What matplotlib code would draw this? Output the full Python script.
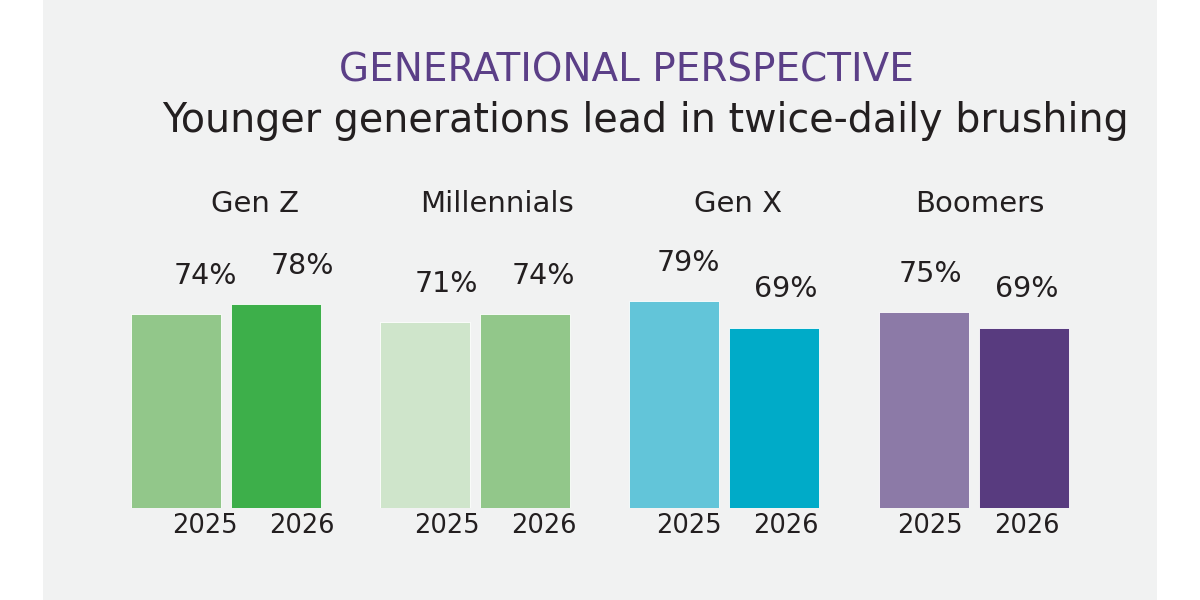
import matplotlib
matplotlib.use("Agg")
import matplotlib.pyplot as plt
from matplotlib.patches import Rectangle

# --- datos ---
groups = ["Gen Z", "Millennials", "Gen X", "Boomers"]
years = ["2025", "2026"]
vals_2025 = [74, 71, 79, 75]
vals_2026 = [78, 74, 69, 69]
colors_2025 = ["#92c78a", "#cfe5cb", "#62c5d9", "#8c7aa7"]
colors_2026 = ["#3daf4a", "#92c78a", "#00abc8", "#583b7f"]

title = "GENERATIONAL PERSPECTIVE"
subtitle = "Younger generations lead in twice-daily brushing"

# --- estilo ---
fam = ["DejaVu Sans"]
txt = "#231f20"
purple = "#5b3f87"
panel = "#f1f2f2"

fig = plt.figure(figsize=(12, 6), dpi=100)
fig.patch.set_facecolor("white")
fig.patches.append(Rectangle((43 / 1200, 0), 1114 / 1200, 1, transform=fig.transFigure,
                             facecolor=panel, edgecolor="none", zorder=-10))

# ejes: 1 unidad x = 100 px, eje y en % (0 en y=508 px, 2.62 px por %)
ax = fig.add_axes([0, (600 - 508.3) / 600, 1, 262 / 600])
ax.set_xlim(-2.26, 9.74)
ax.set_ylim(0, 100)
ax.axis("off")

step = 2.492
w = 0.9


def shift(x):
    # las etiquetas van un poco a la derecha, cada vez menos
    return x + 0.29 - 0.03 * (x + 0.5)


for i, g in enumerate(groups):
    c = i * step
    for x, v, col, yr in [(c - 0.5, vals_2025[i], colors_2025[i], years[0]),
                          (c + 0.5, vals_2026[i], colors_2026[i], years[1])]:
        ax.bar(x, v, width=w, color=col, edgecolor="white", linewidth=0.6, zorder=2)
        ax.text(shift(x), v + 11.5, f"{v}%", ha="center", va="baseline",
                fontsize=20.5, color=txt, family=fam, clip_on=False)
        ax.text(shift(x), -9.4, yr, ha="center", va="baseline",
                fontsize=18.5, color=txt, family=fam, clip_on=False)
    ax.text(shift(c - 0.5) + 0.5, 113.2, g, ha="center", va="baseline",
            fontsize=21, color=txt, family=fam, clip_on=False)

fig.text(626 / 1200, 1 - 81.7 / 600, title, ha="center", va="baseline",
         fontsize=28, color=purple, family=fam)
fig.text(645 / 1200, 1 - 131.7 / 600, subtitle, ha="center", va="baseline",
         fontsize=28.5, color=txt, family=fam)

fig.savefig("out.png", dpi=100, facecolor=fig.get_facecolor())
